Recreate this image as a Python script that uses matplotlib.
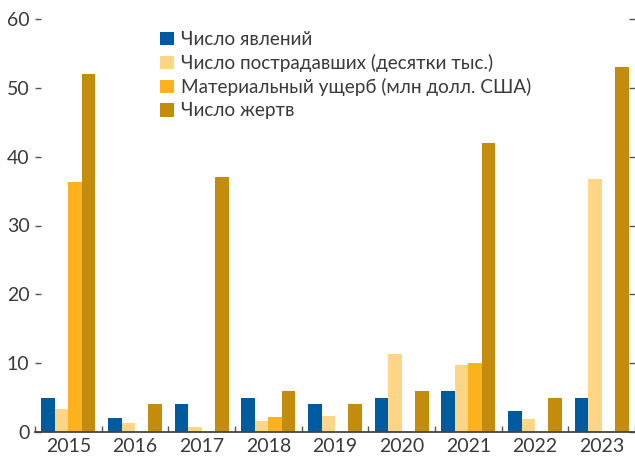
import matplotlib
matplotlib.use("Agg")
import matplotlib.pyplot as plt
from matplotlib.patches import Patch
import numpy as np

plt.rcParams['font.family'] = ['Lato', 'DejaVu Sans']

years = ["2015", "2016", "2017", "2018", "2019", "2020", "2021", "2022", "2023"]
events = [5, 2, 4, 5, 4, 5, 6, 3, 5]
victims = [3.3, 1.3, 0.7, 1.6, 2.3, 11.3, 9.7, 1.9, 36.8]
damage = [36.3, 0, 0, 2.2, 0, 0, 10.0, 0, 0]
deaths = [52, 4, 37, 6, 4, 6, 42, 5, 53]

labels = ["Число явлений", "Число пострадавших (десятки тыс.)",
          "Материальный ущерб (млн долл. США)", "Число жертв"]
colors = ["#005B9E", "#FCD587", "#FBB21C", "#C38C0C"]
series = [events, victims, damage, deaths]

W, H = 635, 459
fig = plt.figure(figsize=(W / 100, H / 100), dpi=100)
ax = fig.add_axes([35 / W, (H - 432) / H, 1 - 35 / W, (432 - 19) / H])

x = np.arange(len(years))
bw = 54 / 67 / 4
for i, (vals, c) in enumerate(zip(series, colors)):
    ax.bar(x - 2 * bw + (i + 0.5) * bw, vals, width=bw, color=c, label=labels[i], linewidth=0)

ax.set_ylim(0, 60)
ax.set_xlim(-0.5, 8.5 - 3 / 67)
ax.set_yticks([0, 10, 20, 30, 40, 50, 60])
ax.set_xticks(x)
ax.set_xticklabels(years)
ax.set_xticks(np.arange(-0.5, 9, 1), minor=True)

txt = "#3a3a3a"
for s in ["top", "right", "left"]:
    ax.spines[s].set_visible(False)
ax.spines["bottom"].set_color("#444444")
ax.spines["bottom"].set_linewidth(1.3)

ax.tick_params(axis="y", which="major", direction="in", length=4.5, width=1,
               color="#555555", labelsize=14, labelcolor=txt, pad=4, right=True)
ax.tick_params(axis="x", which="major", length=0, labelsize=14, labelcolor=txt, pad=4)
ax.tick_params(axis="x", which="minor", direction="in", length=4.5, width=1, color="#555555")

handles = [Patch(facecolor=c, edgecolor="none") for c in colors]
leg = fig.legend(handles, labels, loc="upper left", bbox_to_anchor=(160 / W, 1 - 31 / H),
                 frameon=False, fontsize=13.6, handlelength=0.74, handleheight=0.74,
                 handletextpad=0.37, labelspacing=0.32, borderaxespad=0, borderpad=0)
for t in leg.get_texts():
    t.set_color(txt)

fig.savefig("out.png", dpi=100)
